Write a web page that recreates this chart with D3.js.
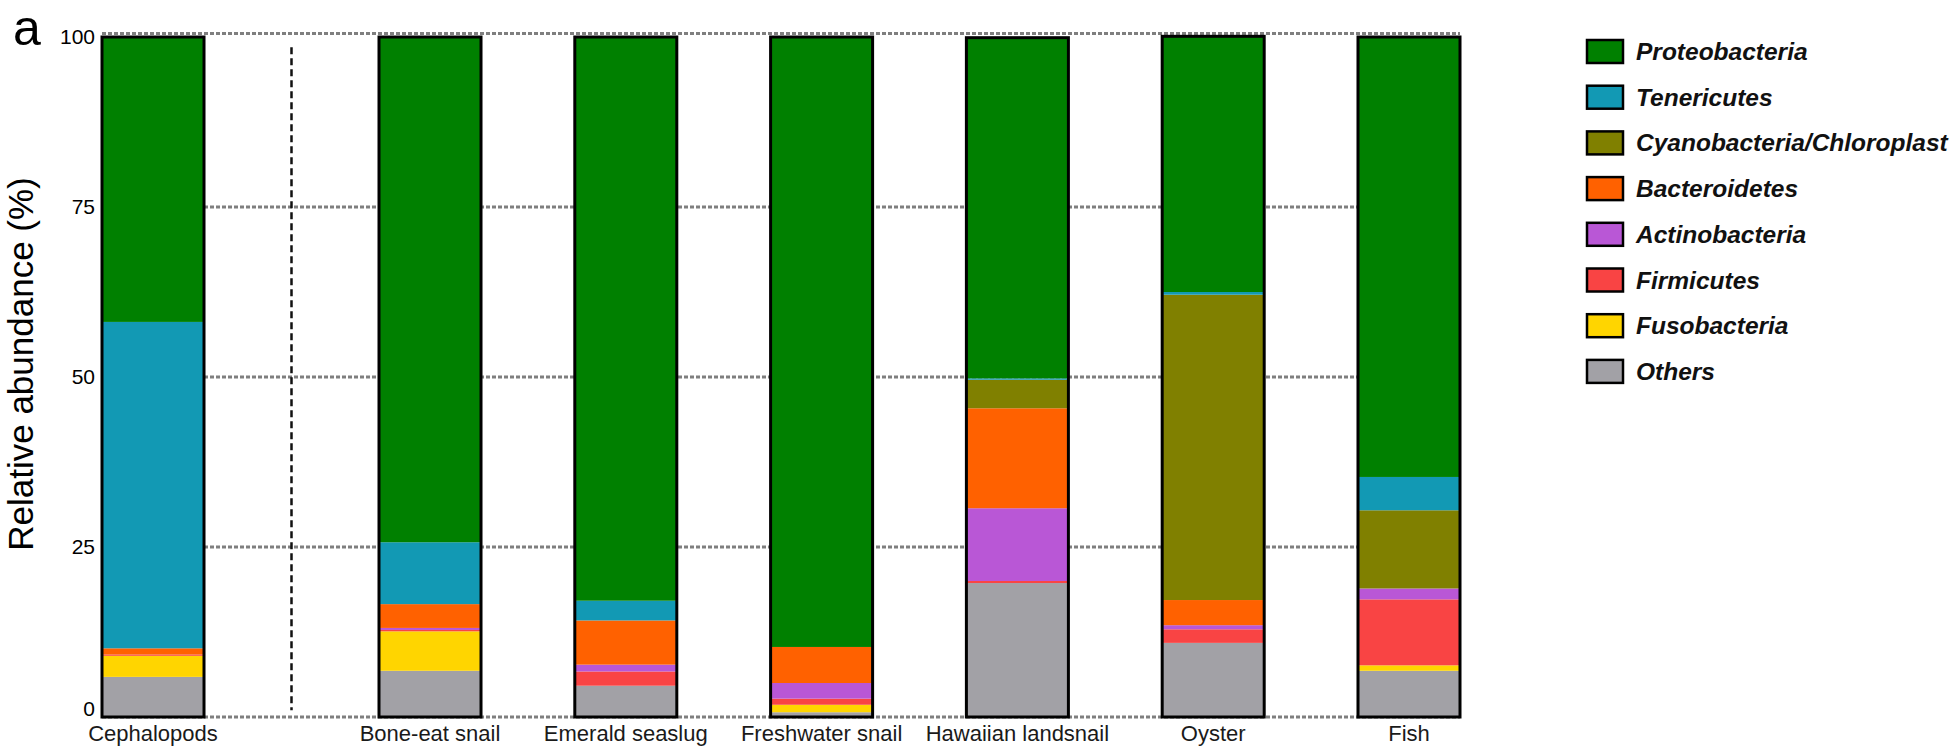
<!DOCTYPE html>
<html>
<head>
<meta charset="utf-8">
<script src="https://cdn.jsdelivr.net/npm/d3@7"></script>
<style>
  body { margin: 0; background: #fff; }
  text { font-family: "Liberation Sans", Arial, sans-serif; }
</style>
</head>
<body>
<div id="chart"></div>
<script>
// samples (first one is drawn apart, left of the dashed divider)
var refSamples = ["Cephalopods"];
var samples = ["Bone-eat snail", "Emerald seaslug", "Freshwater snail", "Hawaiian landsnail", "Oyster", "Fish"];
var allSamples = refSamples.concat(samples);

// phyla, bottom of the stack first
var phyla = ["Others", "Fusobacteria", "Firmicutes", "Actinobacteria", "Bacteroidetes", "Cyanobacteria/Chloroplast", "Tenericutes", "Proteobacteria"];
var phylaColors = ["#a2a1a6", "#ffd500", "#f94444", "#b957d6", "#ff6100", "#808000", "#1299b4", "#008000"];

// relative abundance (%) per sample, same order as allSamples
var proteobacteria = [41.9, 74.3, 82.9, 89.7, 50.1, 37.6, 64.7];
var tenericutes    = [48.0,  9.1,  2.9,  0.0,  0.2,  0.4,  4.9];
var cyanobacteria  = [ 0.0,  0.0,  0.0,  0.0,  4.2, 44.9, 11.5];
var bacteroidetes  = [ 0.9,  3.5,  6.5,  5.3, 14.7,  3.7,  0.0];
var actinobacteria = [ 0.0,  0.3,  1.0,  2.3, 10.7,  0.6,  1.6];
var firmicutes     = [ 0.2,  0.2,  2.1,  0.9,  0.3,  2.0,  9.7];
var fusobacteria   = [ 3.1,  5.8,  0.0,  1.1,  0.0,  0.0,  0.8];
var others         = [ 5.9,  6.8,  4.6,  0.7, 19.7, 10.9,  6.8];

var yTicks = [0, 25, 50, 75, 100];

// build table for d3.stack
var series = {
  "Others": others, "Fusobacteria": fusobacteria, "Firmicutes": firmicutes,
  "Actinobacteria": actinobacteria, "Bacteroidetes": bacteroidetes,
  "Cyanobacteria/Chloroplast": cyanobacteria, "Tenericutes": tenericutes,
  "Proteobacteria": proteobacteria
};
var table = allSamples.map(function(s, i) {
  var row = {sample: s};
  phyla.forEach(function(p) { row[p] = series[p][i]; });
  return row;
});

var width = 1960, height = 751;

var svg = d3.select("#chart")
  .append("svg")
    .attr("width", width)
    .attr("height", height);

// scales
var y = d3.scaleLinear().domain([0, 100]).range([717, 37]);

var xRef = d3.scaleBand().domain(refSamples).range([102, 204]);
var xMain = d3.scaleBand()
  .domain(samples)
  .range([379, 1460])
  .paddingInner(0.479)
  .paddingOuter(0);
function xOf(s) { return refSamples.indexOf(s) >= 0 ? xRef(s) : xMain(s); }
var bw = xMain.bandwidth();

var color = d3.scaleOrdinal().domain(phyla).range(phylaColors);

// dotted grid lines
var gridVals = [0, 25, 50, 75];
svg.selectAll(".grid")
  .data(gridVals)
  .enter()
  .append("line")
    .attr("x1", 102)
    .attr("x2", 1460)
    .attr("y1", d => y(d))
    .attr("y2", d => y(d))
    .attr("stroke", "#7f7f7f")
    .attr("stroke-width", 3)
    .attr("stroke-dasharray", "4,2");

// top frame line, just above 100
svg.append("line")
  .attr("x1", 102)
  .attr("x2", 1460)
  .attr("y1", y(100.5))
  .attr("y2", y(100.5))
  .attr("stroke", "#7f7f7f")
  .attr("stroke-width", 3)
  .attr("stroke-dasharray", "4,2");

// dashed divider between reference and other samples
var divX = (xRef.range()[1] + xMain.range()[0]) / 2;
svg.append("line")
  .attr("x1", divX)
  .attr("x2", divX)
  .attr("y1", y(98.5))
  .attr("y2", y(1))
  .attr("stroke", "#111")
  .attr("stroke-width", 2.5)
  .attr("stroke-dasharray", "7,4");

// stacked segments
var stacked = d3.stack().keys(phyla)(table);

svg.append("g")
  .selectAll("g")
  .data(stacked)
  .enter()
  .append("g")
    .attr("fill", d => color(d.key))
  .selectAll("rect")
  .data(d => d)
  .enter()
  .append("rect")
    .attr("x", d => xOf(d.data.sample))
    .attr("y", d => y(d[1]))
    .attr("width", bw)
    .attr("height", d => Math.max(0, y(d[0]) - y(d[1])));

// bar outlines
svg.selectAll(".outline")
  .data(table)
  .enter()
  .append("rect")
    .attr("x", d => xOf(d.sample))
    .attr("y", d => y(d3.sum(phyla, p => d[p])))
    .attr("width", bw)
    .attr("height", d => y(0) - y(d3.sum(phyla, p => d[p])))
    .attr("fill", "none")
    .attr("stroke", "#000")
    .attr("stroke-width", 3);

// y axis labels only
var yAxis = svg.append("g")
  .attr("transform", "translate(102,0)")
  .call(d3.axisLeft(y).tickValues(yTicks).tickSize(0).tickPadding(7));
yAxis.select(".domain").remove();
yAxis.selectAll("text")
  .attr("font-size", "21px")
  .attr("fill", "#000")
  .style("font-family", "'Liberation Sans', Arial, sans-serif");
// the zero label sits a little above its line in the original
yAxis.selectAll(".tick text").filter(d => d === 0).attr("dy", "-0.05em");

// category labels
svg.selectAll(".cat")
  .data(allSamples)
  .enter()
  .append("text")
    .attr("x", d => xOf(d) + bw / 2)
    .attr("y", 741)
    .attr("text-anchor", "middle")
    .attr("font-size", "22px")
    .attr("fill", "#1a1a1a")
    .text(d => d);

// y title
svg.append("text")
  .attr("transform", "translate(20,364) rotate(-90)")
  .attr("text-anchor", "middle")
  .attr("dominant-baseline", "central")
  .attr("font-size", "35px")
  .text("Relative abundance (%)");

// panel letter
svg.append("text")
  .attr("x", 13)
  .attr("y", 45)
  .attr("font-size", "50px")
  .text("a");

// legend, top entry = top of stack
var legendItems = phyla.slice().reverse();
var legend = svg.selectAll(".legend")
  .data(legendItems)
  .enter()
  .append("g")
    .attr("transform", (d, i) => "translate(1587," + (40 + i * 45.7) + ")");

legend.append("rect")
  .attr("width", 36)
  .attr("height", 23)
  .attr("fill", d => color(d))
  .attr("stroke", "#000")
  .attr("stroke-width", 2.5);

legend.append("text")
  .attr("x", 49)
  .attr("y", 20)
  .attr("font-size", "24.5px")
  .attr("font-weight", "bold")
  .attr("font-style", "italic")
  .attr("fill", "#111")
  .text(d => d);
</script>
</body>
</html>
